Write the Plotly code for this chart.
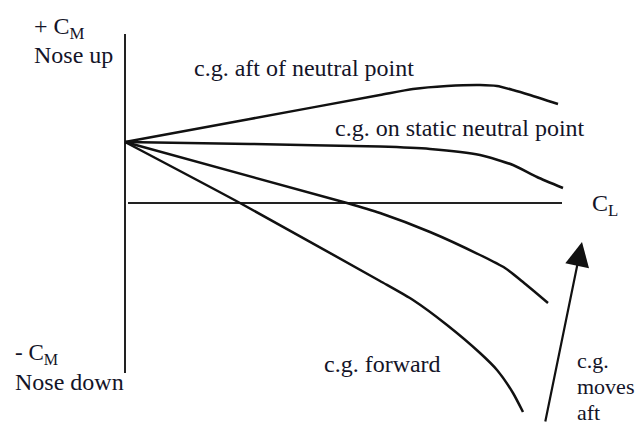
import plotly.graph_objects as go

# Conceptual pitching-moment curves (C_L horizontal, C_M vertical), arbitrary units
cl_aft = [0, 3.125, 6.375, 7.2, 8.05, 8.875, 9.3, 9.7, 10.125, 10.825]
cm_aft = [1.525, 2.1, 2.7, 2.85, 2.925, 2.95, 2.925, 2.825, 2.7, 2.475]

cl_neutral = [0, 3.125, 6.375, 7.625, 8.875, 9.7, 10.3, 10.95]
cm_neutral = [1.525, 1.475, 1.41, 1.35, 1.2, 0.95, 0.65, 0.375]

cl_mid = [0, 5.55, 6.375, 7.625, 8.875, 9.5, 9.95, 10.575]
cm_mid = [1.525, 0, -0.25, -0.725, -1.3, -1.625, -1.975, -2.5]

cl_fwd = [0, 2.875, 6.375, 7.2, 8.05, 8.875, 9.3, 9.7, 9.95]
cm_fwd = [1.525, 0, -1.95, -2.425, -3.05, -3.75, -4.175, -4.75, -5.225]

# axis lines
cm_axis_x = [0, 0]
cm_axis_y = [4.225, -4.25]
cl_axis_x = [0.075, 10.925]
cl_axis_y = [0, 0]

# "c.g. moves aft" arrow: tail -> tip
arrow_tail = (10.5, -5.5)
arrow_tip = (11.425, -0.975)

FONT = "Liberation Serif"
FS = 24
FS_SMALL = 22
TXT = "#141428"

fig = go.Figure()
for xs, ys in [(cm_axis_x, cm_axis_y), (cl_axis_x, cl_axis_y)]:
    fig.add_trace(go.Scatter(x=xs, y=ys, mode="lines",
                             line=dict(color="#222", width=2), hoverinfo="skip"))
for xs, ys in [(cl_aft, cm_aft), (cl_neutral, cm_neutral), (cl_mid, cm_mid), (cl_fwd, cm_fwd)]:
    fig.add_trace(go.Scatter(x=xs, y=ys, mode="lines",
                             line=dict(color="#111", width=2.5, shape="spline", smoothing=0.6),
                             hoverinfo="skip"))

labels = [
    ("+ C<sub>M</sub>", -2.325, 4.38, FS),
    ("Nose up", -2.325, 3.7, FS),
    ("- C<sub>M</sub>", -2.8, -3.78, 23),
    ("Nose down", -2.8, -4.47, FS),
    ("c.g. aft of neutral point", 1.675, 3.375, FS),
    ("c.g. on static neutral point", 5.2, 1.875, FS),
    ("c.g. forward", 4.925, -4.025, FS),
    ("C<sub>L</sub>", 11.625, -0.05, FS),
    ("c.g.", 11.25, -3.925, FS_SMALL),
    ("moves", 11.25, -4.575, FS_SMALL),
    ("aft", 11.25, -5.24, FS_SMALL),
]
for t, x, y, s in labels:
    fig.add_annotation(x=x, y=y, text=t, showarrow=False, xanchor="left", yanchor="middle",
                       font=dict(family=FONT, size=s, color=TXT))

fig.add_annotation(x=arrow_tip[0], y=arrow_tip[1], ax=arrow_tail[0], ay=arrow_tail[1],
                   xref="x", yref="y", axref="x", ayref="y", text="", showarrow=True,
                   arrowhead=2, arrowwidth=2.2, arrowsize=2.2, arrowcolor="#111")

fig.update_layout(
    width=642, height=426, margin=dict(l=0, r=0, t=0, b=0),
    paper_bgcolor="white", plot_bgcolor="white", showlegend=False,
    xaxis=dict(range=[-3.125, 12.925], visible=False, fixedrange=True),
    yaxis=dict(range=[-5.575, 5.075], visible=False, fixedrange=True),
)
fig.write_html("out.html", config={"displayModeBar": False},
               post_script="document.body.style.margin='0';document.body.style.overflow='hidden';")
